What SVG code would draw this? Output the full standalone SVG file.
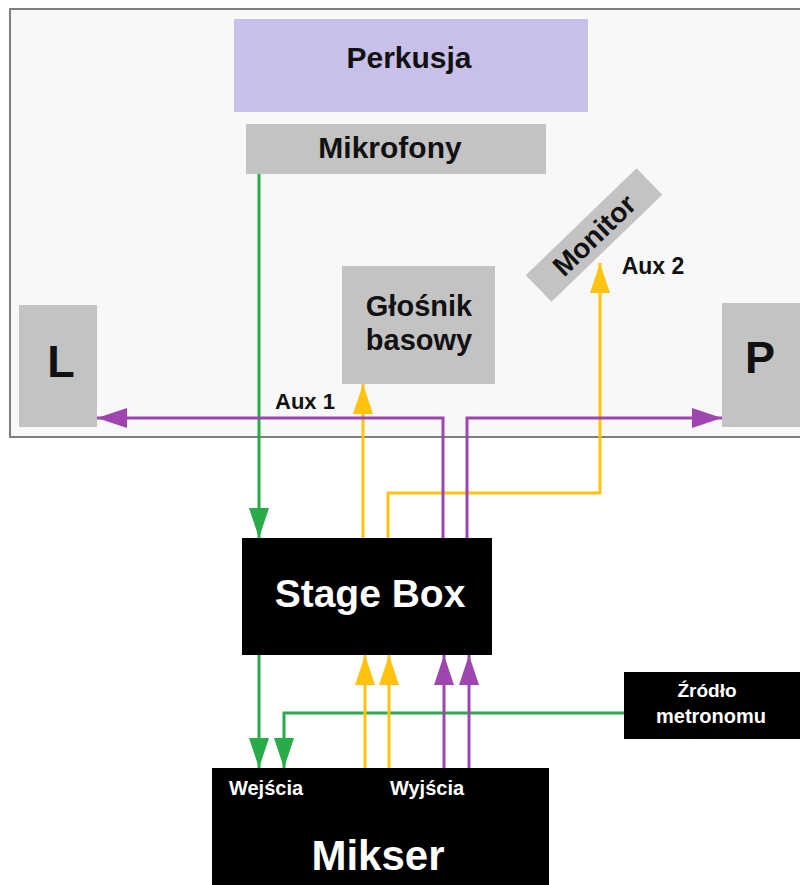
<svg xmlns="http://www.w3.org/2000/svg" width="800" height="885" viewBox="0 0 800 885">
<style>
text{font-family:"Liberation Sans",Arial,sans-serif;font-weight:bold;text-anchor:middle}
.gray{fill:#c3c3c3}
.blk{fill:#000}
.dark{fill:#111}
.wht{fill:#fff}
.g{stroke:#2aab4a;stroke-width:3;fill:none}
.y{stroke:#ffc20e;stroke-width:3;fill:none}
.p{stroke:#9e45b0;stroke-width:3;fill:none}
</style>
<defs>
<marker id="ag" markerWidth="30" markerHeight="20" viewBox="0 0 30 20" refX="30" refY="10" orient="auto" markerUnits="userSpaceOnUse"><path d="M0,0 L30,10 L0,20 Z" fill="#2aab4a"/></marker>
<marker id="ay" markerWidth="30" markerHeight="20" viewBox="0 0 30 20" refX="30" refY="10" orient="auto" markerUnits="userSpaceOnUse"><path d="M0,0 L30,10 L0,20 Z" fill="#ffc20e"/></marker>
<marker id="ap" markerWidth="30" markerHeight="20" viewBox="0 0 30 20" refX="30" refY="10" orient="auto" markerUnits="userSpaceOnUse"><path d="M0,0 L30,10 L0,20 Z" fill="#9e45b0"/></marker>
</defs>
<rect width="800" height="885" fill="#fff"/>
<g id="stage">
<rect x="10" y="9" width="800" height="428" fill="#f8f8f8" stroke="#7f7f7f" stroke-width="2"/>
</g>
<g id="perkusja">
<rect x="234" y="19" width="354" height="93" fill="#c8c0e8"/>
<text x="409" y="68" font-size="30" class="dark">Perkusja</text>
</g>
<g id="mikrofony">
<rect x="246" y="124" width="300" height="50" class="gray"/>
<text x="390" y="158" font-size="30" class="dark">Mikrofony</text>
</g>
<g id="glosnik">
<rect x="342" y="266" width="153" height="118" class="gray"/>
<text x="419" y="316" font-size="29" class="dark">Głośnik</text>
<text x="419" y="350" font-size="29" class="dark">basowy</text>
</g>
<g id="monitor" transform="translate(594,235) rotate(-44)">
<rect x="-77" y="-18.5" width="154" height="37" class="gray"/>
<text x="0" y="10" font-size="28" class="dark">Monitor</text>
</g>
<g id="L">
<rect x="19" y="305" width="78" height="122" class="gray"/>
<text x="61" y="377" font-size="45" class="dark">L</text>
</g>
<g id="P">
<rect x="722" y="303" width="80" height="124" class="gray"/>
<text x="760" y="373" font-size="45" class="dark">P</text>
</g>
<g id="stagebox">
<rect x="242" y="538" width="250" height="117" class="blk"/>
<text x="370" y="607" font-size="39" class="wht">Stage Box</text>
</g>
<g id="mikser">
<rect x="212" y="768" width="337" height="120" class="blk"/>
<text x="266" y="795" font-size="20" class="wht">Wejścia</text>
<text x="427" y="795" font-size="20" class="wht">Wyjścia</text>
<text x="378" y="870" font-size="42" class="wht">Mikser</text>
</g>
<g id="metronom">
<rect x="624" y="672" width="178" height="67" class="blk"/>
<text x="707" y="697" font-size="19" class="wht">Źródło</text>
<text x="711" y="723" font-size="20" class="wht">metronomu</text>
</g>
<g id="connectors">
<path class="g" d="M259,174 V538" marker-end="url(#ag)"/>
<path class="y" d="M363,538 V384" marker-end="url(#ay)"/>
<path class="y" d="M388,538 V493 H600 V263" marker-end="url(#ay)"/>
<path class="p" d="M443,538 V418 H97" marker-end="url(#ap)"/>
<path class="p" d="M467,538 V418 H722" marker-end="url(#ap)"/>
<path class="g" d="M259,655 V768" marker-end="url(#ag)"/>
<path class="g" d="M624,713 H284 V768" marker-end="url(#ag)"/>
<path class="y" d="M365,768 V655" marker-end="url(#ay)"/>
<path class="y" d="M389,768 V655" marker-end="url(#ay)"/>
<path class="p" d="M444,768 V655" marker-end="url(#ap)"/>
<path class="p" d="M469,768 V655" marker-end="url(#ap)"/>
</g>
<g id="labels">
<text x="305" y="409" font-size="22" class="dark">Aux 1</text>
<text x="653" y="274" font-size="23" class="dark">Aux 2</text>
</g>
</svg>
